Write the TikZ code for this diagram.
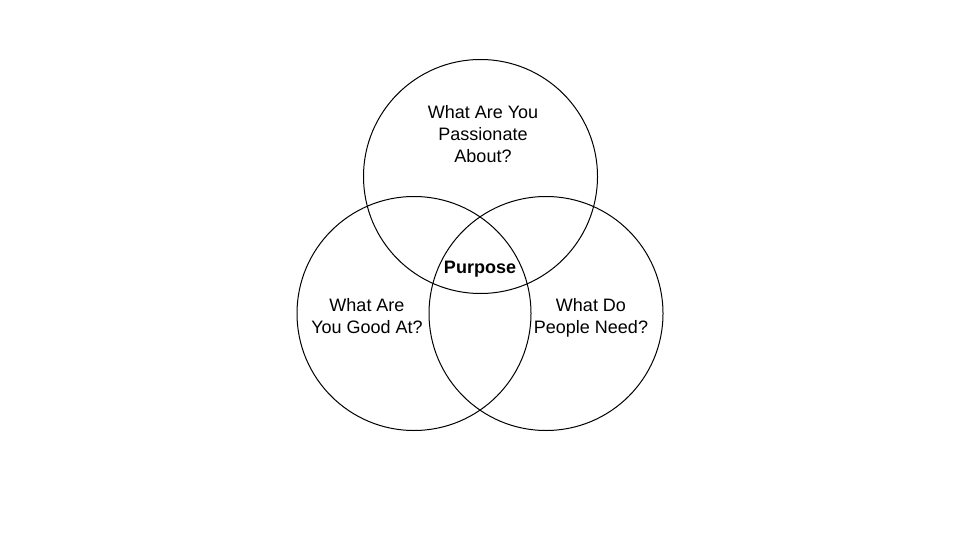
\documentclass[tikz,border=0pt]{standalone}
\usepackage{fontspec}
\setmainfont{Liberation Sans}
\begin{document}
\begin{tikzpicture}[x=1pt,y=-1pt,
  ring/.style={draw=black,line width=1pt,circle,minimum size=234pt,inner sep=0pt},
  lbl/.style={align=center,inner sep=0pt,font=\fontsize{18}{22}\selectfont}]
\useasboundingbox (0,0) rectangle (960,540);
\fill[white] (0,0) rectangle (960,540);
\node[ring] (top) at (480.5,176.5) {};
\node[ring] (left) at (414,313.5) {};
\node[ring] (right) at (546,313.5) {};
\node[lbl] (ttop) at (483,134.5) {What Are You\\Passionate\\About?};
\node[lbl] (tleft) at (367,316) {What Are\\You Good At?};
\node[lbl] (tright) at (591,318) {What Do\\People Need?};
\node[lbl,font=\fontsize{18}{22}\selectfont\bfseries] (purpose) at (480,269.5) {Purpose};
\end{tikzpicture}
\end{document}
